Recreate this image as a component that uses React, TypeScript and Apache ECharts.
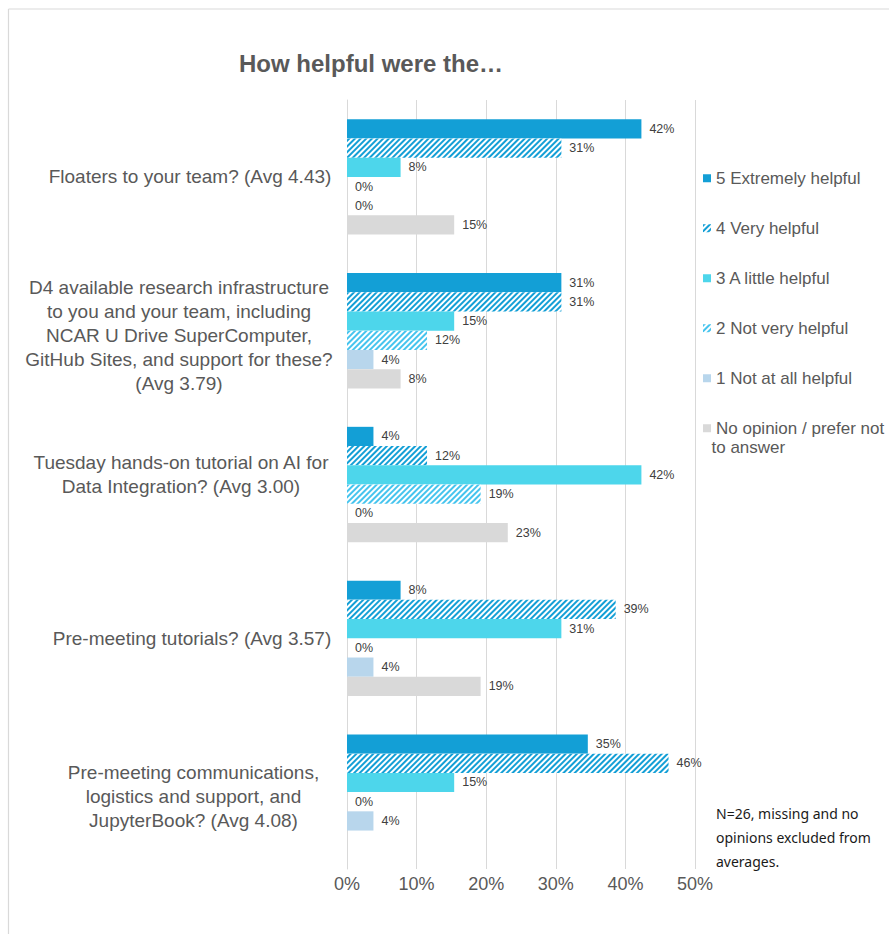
import React, { useEffect, useRef } from "react";
import * as echarts from "echarts";

const categories = [
  "Floaters to your team? (Avg 4.43)",
  "D4 available research infrastructure\nto you and your team, including\nNCAR U Drive SuperComputer,\nGitHub Sites, and support for these?\n(Avg 3.79)",
  "Tuesday hands-on tutorial on AI for\nData Integration? (Avg 3.00)",
  "Pre-meeting tutorials? (Avg 3.57)",
  "Pre-meeting communications,\nlogistics and support, and\nJupyterBook? (Avg 4.08)",
];
const seriesNames = [
  "5 Extremely helpful",
  "4 Very helpful",
  "3 A little helpful",
  "2 Not very helpful",
  "1 Not at all helpful",
  "No opinion / prefer not to answer",
];
const extremely = [42.3, 30.8, 3.8, 7.7, 34.6];
const very = [30.8, 30.8, 11.5, 38.6, 46.2];
const little = [7.7, 15.4, 42.3, 30.8, 15.4];
const notVery = [0, 11.5, 19.2, 0, 0];
const notAtAll = [0, 3.8, 0, 3.8, 3.8];
const noOpinion: (number | null)[] = [15.4, 7.7, 23.1, 19.2, null];
const xTicks = [0, 10, 20, 30, 40, 50];
const noteText = "N=26, missing and no\nopinions excluded from\naverages.";
const titleText = "How helpful were the…";

// per-category label nudges (px), style only
const labelShiftX = [5, -6, -4, 7, 8.5];
const labelShiftY = [0, 5, -10, 0, 4];

export default function App() {
  const ref = useRef<HTMLDivElement>(null);
  useEffect(() => {
    if (!ref.current) return;
    const chart = echarts.init(ref.current, undefined, { renderer: "svg" });
    const label = {
      show: true,
      position: "right",
      distance: 8,
      color: "#404040",
      fontSize: 12.5,
      fontFamily: "Liberation Sans",
      formatter: (p: any) => (p.value == null ? "" : Math.round(p.value) + "%"),
    };
    const mk = (name: string, data: (number | null)[], itemStyle: any) => ({
      name,
      type: "bar",
      data,
      barGap: "0%",
      barCategoryGap: "25%",
      itemStyle,
      label,
      emphasis: { disabled: true },
    });
    const stripes = (c: string) => ({
      color: "#ffffff",
      decal: {
        symbol: "rect",
        symbolSize: 1,
        dashArrayX: [1, 0],
        dashArrayY: [2, 2],
        rotation: -Math.PI / 4,
        color: c,
      },
    });
    const legendText = {
      color: "#595959",
      fontSize: 17,
      lineHeight: 18.5,
      fontFamily: "Liberation Sans",
    };
    const baseRich = {
      color: "#595959",
      fontSize: 19,
      lineHeight: 24,
      fontFamily: "Liberation Sans",
    };
    const rich: Record<string, any> = {};
    categories.forEach((c, i) => {
      const sx = labelShiftX[i];
      const l = sx > 0 ? 2 * sx : 0;
      const r = sx < 0 ? -2 * sx : 0;
      rich[`c${i}`] = { ...baseRich, padding: [0, r, 0, l] };
      const sy = labelShiftY[i];
      if (sy !== 0) rich[`s${i}`] = { fontSize: 1, lineHeight: Math.abs(2 * sy), color: "#fff" };
    });
    chart.setOption({
      animation: false,
      grid: {
        left: 347,
        right: 194,
        top: 100,
        bottom: 65,
        containLabel: false,
        outerBoundsMode: "none",
      },
      xAxis: {
        type: "value",
        min: xTicks[0],
        max: xTicks[xTicks.length - 1],
        interval: 10,
        axisLine: { show: false },
        axisTick: { show: false },
        splitLine: { lineStyle: { color: "#d9d9d9", width: 1 } },
        axisLabel: {
          formatter: (v: number) => v + "%",
          color: "#595959",
          fontSize: 18,
          fontFamily: "Liberation Sans",
          margin: 6,
        },
      },
      yAxis: {
        type: "category",
        inverse: true,
        data: categories,
        axisLine: { show: true, lineStyle: { color: "#d9d9d9", width: 1 } },
        axisTick: { show: false },
        axisLabel: {
          align: "center",
          margin: 162,
          color: "#595959",
          fontSize: 19,
          lineHeight: 24,
          fontFamily: "Liberation Sans",
          formatter: (v: string, idx: number) => {
            const i0 = categories.indexOf(v);
            const k = i0 < 0 ? idx : i0;
            const lines = v.split("\n").map((line) => `{c${k}|${line}}`);
            const sy = labelShiftY[k];
            if (sy > 0) lines.unshift(`{s${k}| }`);
            if (sy < 0) lines.push(`{s${k}| }`);
            return lines.join("\n");
          },
          rich,
        },
      },
      legend: [
        {
          data: seriesNames.slice(0, 5),
          orient: "vertical",
          left: 698,
          top: 164,
          itemWidth: 8,
          itemHeight: 8,
          itemGap: 31.5,
          icon: "rect",
          selectedMode: false,
          textStyle: legendText,
        },
        {
          data: seriesNames.slice(5),
          orient: "vertical",
          left: 698,
          top: 414,
          itemWidth: 8,
          itemHeight: 8,
          icon: "rect",
          selectedMode: false,
          formatter: () => "No opinion / prefer not",
          textStyle: legendText,
        },
      ],
      graphic: [
        { type: "line", shape: { x1: 8.5, y1: 9, x2: 8.5, y2: 934 }, style: { stroke: "#d9d9d9", lineWidth: 1.2 } },
        { type: "line", shape: { x1: 8.5, y1: 9, x2: 889, y2: 9 }, style: { stroke: "#d9d9d9", lineWidth: 1.2 } },
        {
          type: "text",
          x: 239,
          y: 63,
          style: {
            text: titleText,
            fill: "#595959",
            font: "bold 24px 'Liberation Sans'",
            verticalAlign: "middle",
          },
        },
        {
          type: "text",
          x: 711.5,
          y: 447,
          style: {
            text: "to answer",
            fill: "#595959",
            font: "17px 'Liberation Sans'",
            verticalAlign: "middle",
          },
        },
        {
          type: "text",
          x: 716,
          y: 801,
          style: {
            text: noteText,
            fill: "#1a1a1a",
            font: "14px 'Noto Sans'",
            lineHeight: 24,
            verticalAlign: "top",
          },
        },
      ],
      series: [
        mk(seriesNames[0], extremely, { color: "#139fd6" }),
        mk(seriesNames[1], very, stripes("#139fd6")),
        mk(seriesNames[2], little, { color: "#4dd6eb" }),
        mk(seriesNames[3], notVery, stripes("#45c4ee")),
        mk(seriesNames[4], notAtAll, { color: "#b8d6ec" }),
        mk(seriesNames[5], noOpinion, { color: "#d9d9d9" }),
      ],
    });
    return () => chart.dispose();
  }, []);
  return (
    <div
      ref={ref}
      style={{ position: "fixed", left: 0, top: 0, width: 889, height: 934, background: "#fff" }}
    />
  );
}
